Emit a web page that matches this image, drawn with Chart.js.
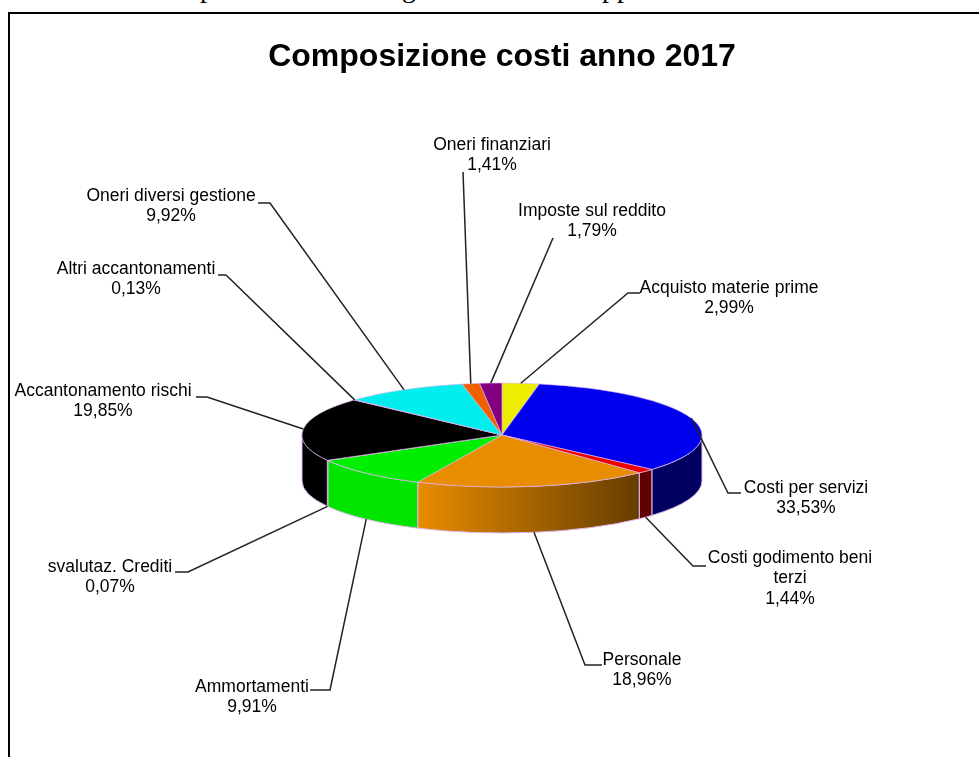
<!DOCTYPE html>
<html>
<head>
<meta charset="utf-8">
<title>Composizione costi anno 2017</title>
<script src="https://cdn.jsdelivr.net/npm/chart.js@4/dist/chart.umd.min.js"></script>
<style>
  html, body { margin: 0; padding: 0; background: #fff; overflow: hidden; }
  #frame { position: absolute; left: 8px; top: 12px; width: 980px; height: 760px; border: 2px solid #000; box-sizing: border-box; }
  #wrap { position: absolute; left: 0; top: 0; width: 979px; height: 757px; }
  .cut { position: absolute; font: 28px "Liberation Serif", serif; color: #000; line-height: 28px; letter-spacing: 1px; }
</style>
</head>
<body>
<span class="cut" style="left:200px;top:-26px">p</span>
<span class="cut" style="left:402px;top:-26px">g</span>
<span class="cut" style="left:602px;top:-26px">pp</span>
<div id="frame"></div>
<div id="wrap"><canvas id="grafico" width="979" height="757"></canvas></div>
<script>
const categorie = ['Acquisto materie prime', 'Costi per servizi', 'Costi godimento beni\nterzi', 'Personale', 'Ammortamenti',
  'svalutaz. Crediti', 'Accantonamento rischi', 'Altri accantonamenti', 'Oneri diversi gestione', 'Oneri finanziari', 'Imposte sul reddito'];
const valori = [2.99, 33.53, 1.44, 18.96, 9.91, 0.07, 19.85, 0.13, 9.92, 1.41, 1.79];
const colori = ['#EEEE00', '#0000EE', '#EE0000', '#E88C00', '#00EE00', '#EEEE00', '#000000', '#EE00EE', '#00EEEE', '#EE6000', '#800080'];
// colore del lato: inizio e fine del gradiente
const coloriLato = ['#EEEE00', '#0000EE', '#EE0000', '#E88C00', '#00E400', '#EEEE00', '#000000', '#EE00EE', '#00EEEE', '#EE6000', '#800080'];
const coloriScuri = ['#606000', '#000060', '#600000', '#663C00', '#00C000', '#606000', '#000000', '#600060', '#006060', '#602000', '#300030'];

// posizione etichette: centro del testo, gomito della linea
const posEtichette = [
  { x: 729, y: 288, gx: 628, gy: 293, ex: 640 },
  { x: 806, y: 488, gx: 728, gy: 493, ex: 741 },
  { x: 790, y: 558, gx: 693, gy: 566, ex: 706 },
  { x: 642, y: 660, gx: 585, gy: 665, ex: 602 },
  { x: 252, y: 687, gx: 330, gy: 690, ex: 310 },
  { x: 110, y: 567, gx: 188, gy: 572, ex: 175 },
  { x: 103, y: 391, gx: 207, gy: 397, ex: 196 },
  { x: 136, y: 269, gx: 226, gy: 275, ex: 218 },
  { x: 171, y: 196, gx: 270, gy: 203, ex: 258 },
  { x: 492, y: 145, gx: 463, gy: 172, ex: 463 },
  { x: 592, y: 211, gx: 553, gy: 238, ex: 553 }
];

const SQUASH = 52 / 200;
const DEPTH = 46;

// pie 3D: schiaccia la torta di Chart.js e aggiunge il lato sotto
const pie3d = {
  id: 'pie3d',
  beforeDatasetDraw(chart) {
    const ctx = chart.ctx;
    const arcs = chart.getDatasetMeta(0).data;
    const cx = arcs[0].x, cy = arcs[0].y, r = arcs[0].outerRadius;
    arcs.forEach((arc, i) => {
      const a = Math.max(arc.startAngle, 0);
      const b = Math.min(arc.endAngle, Math.PI);
      if (b <= a) return;
      const g = ctx.createLinearGradient(418, 0, 640, 0);
      g.addColorStop(0, coloriLato[i]);
      g.addColorStop(1, coloriScuri[i]);
      ctx.beginPath();
      ctx.ellipse(cx, cy + DEPTH, r, r * SQUASH, 0, a, b);
      ctx.ellipse(cx, cy, r, r * SQUASH, 0, b, a, true);
      ctx.closePath();
      ctx.fillStyle = g;
      ctx.fill();
      ctx.strokeStyle = '#E0B8F0';
      ctx.lineWidth = 1;
      ctx.stroke();
    });
    ctx.save();
    ctx.translate(cx, cy);
    ctx.scale(1, SQUASH);
    ctx.translate(-cx, -cy);
  },
  afterDatasetDraw(chart) {
    chart.ctx.restore();
  },
  afterDraw(chart) {
    const ctx = chart.ctx;
    const arcs = chart.getDatasetMeta(0).data;
    ctx.save();
    ctx.textAlign = 'center';
    ctx.textBaseline = 'middle';
    ctx.font = '17.5px "Liberation Sans"';
    arcs.forEach((arc, i) => {
      const m = (arc.startAngle + arc.endAngle) / 2;
      const sx = arc.x + arc.outerRadius * Math.cos(m);
      let sy = arc.y + arc.outerRadius * SQUASH * Math.sin(m);
      if (Math.sin(m) > 0) sy += DEPTH;
      const p = posEtichette[i];
      ctx.beginPath();
      ctx.moveTo(sx, sy);
      ctx.lineTo(p.gx, p.gy);
      ctx.lineTo(p.ex, p.gy);
      ctx.strokeStyle = '#222';
      ctx.lineWidth = 1.5;
      ctx.stroke();
      ctx.fillStyle = '#000';
      const righe = categorie[i].split('\n');
      righe.push(valori[i].toFixed(2).replace('.', ',') + '%');
      righe.forEach((t, k) => ctx.fillText(t, p.x, p.y + k * 20.5));
    });
    ctx.restore();
  }
};

new Chart(document.getElementById('grafico'), {
  type: 'pie',
  data: {
    labels: categorie,
    datasets: [{
      data: valori,
      backgroundColor: colori,
      borderColor: '#E0B8F0',
      borderWidth: 1,
      radius: 200
    }]
  },
  options: {
    responsive: false,
    animation: false,
    layout: { padding: { left: 25 } },
    plugins: {
      legend: { display: false },
      tooltip: { enabled: false },
      title: {
        display: true,
        text: 'Composizione costi anno 2017',
        color: '#000',
        font: { family: '"Liberation Sans"', size: 32, weight: 'bold' },
        padding: { top: 38, bottom: 36.6 }
      }
    }
  },
  plugins: [pie3d]
});
</script>
</body>
</html>
